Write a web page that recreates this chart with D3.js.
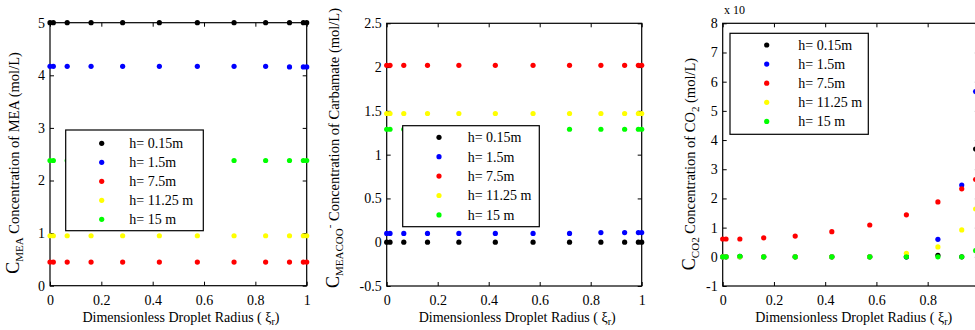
<!DOCTYPE html>
<html>
<head>
<meta charset="utf-8">
<script src="https://cdn.jsdelivr.net/npm/d3@7"></script>
<style>
  body { margin: 0; background: #fff; }
</style>
</head>
<body>
<div id="chart"></div>
<script>
// collocation points along the droplet radius
const xi = [0, 0.013, 0.067, 0.160, 0.283, 0.426, 0.574, 0.717, 0.840, 0.933, 0.987, 1];
const seriesNames = ['h= 0.15m', 'h= 1.5m', 'h= 7.5m', 'h= 11.25 m', 'h= 15 m'];
const seriesColors = ['#000000', '#0000ff', '#ff0000', '#ffff00', '#00ff00'];
const xTicks = [0, 0.2, 0.4, 0.6, 0.8, 1];

// MEA concentration (mol/L)
const meaValues = [
  [5.0, 5.0, 5.0, 5.0, 5.0, 5.0, 5.0, 5.0, 5.0, 5.0, 5.0, 5.0],
  [4.17, 4.17, 4.17, 4.17, 4.17, 4.17, 4.17, 4.17, 4.17, 4.16, 4.16, 4.16],
  [0.45, 0.45, 0.45, 0.45, 0.45, 0.45, 0.45, 0.45, 0.45, 0.45, 0.45, 0.45],
  [0.95, 0.95, 0.95, 0.95, 0.95, 0.95, 0.95, 0.95, 0.95, 0.95, 0.95, 0.95],
  [2.38, 2.38, 2.38, 2.38, 2.38, 2.38, 2.38, 2.38, 2.38, 2.38, 2.38, 2.38]
];
const meaTicks = [0, 1, 2, 3, 4, 5];

// carbamate concentration (mol/L)
const carbValues = [
  [0.0, 0.0, 0.0, 0.0, 0.0, 0.0, 0.0, 0.0, 0.0, 0.0, 0.0, 0.0],
  [0.10, 0.10, 0.10, 0.10, 0.10, 0.10, 0.10, 0.10, 0.11, 0.11, 0.11, 0.11],
  [2.02, 2.02, 2.02, 2.02, 2.02, 2.02, 2.02, 2.02, 2.02, 2.02, 2.02, 2.02],
  [1.47, 1.47, 1.47, 1.47, 1.47, 1.47, 1.47, 1.47, 1.47, 1.47, 1.47, 1.47],
  [1.29, 1.29, 1.29, 1.29, 1.29, 1.29, 1.29, 1.29, 1.29, 1.29, 1.29, 1.29]
];
const carbTicks = [-0.5, 0, 0.5, 1, 1.5, 2, 2.5];

// CO2 concentration (x10^-n mol/L), last point lies outside the picture
const co2Values = [
  [0, 0, 0.02, 0, 0, 0, 0, 0, 0.05, 0, 3.69, null],
  [0, 0, 0, 0, 0, 0, 0, 0, 0.60, 2.46, 5.66, null],
  [0.61, 0.61, 0.61, 0.65, 0.71, 0.86, 1.09, 1.44, 1.88, 2.33, 2.65, null],
  [0, 0, 0, 0, 0, 0, 0, 0.12, 0.34, 0.92, 1.64, null],
  [0, 0, 0.02, 0, 0, 0, 0, 0, 0, 0, 0.21, null]
];
const co2Ticks = [-1, 0, 1, 2, 3, 4, 5, 6, 7, 8];

const width = 975, height = 330;
const FONT = '"Liberation Serif", "Times New Roman", Times, serif';
const svg = d3.select('#chart').append('svg')
  .attr('width', width).attr('height', height);
svg.append('rect').attr('width', width).attr('height', height).attr('fill', '#fff');

const panels = [
  {
    values: meaValues, ticks: meaTicks, domain: [0, 5],
    left: 50, right: 306.7, top: 22.7, bottom: 285.7,
    legend: { x: 65.7, y: 130, w: 137.6, h: 100.7, mx: 101.7, tx: 129.3, y0: 143.3, dy: 19 },
    ylabel: { x: 19, y: 163, sub: 'MEA', sup: null, rest: '  Concentration of  MEA (mol/L)' }
  },
  {
    values: carbValues, ticks: carbTicks, domain: [-0.5, 2.5],
    left: 386.7, right: 641.7, top: 23.3, bottom: 286,
    legend: { x: 402.7, y: 125.7, w: 136.6, h: 101, mx: 439, tx: 467.7, y0: 137.3, dy: 19.4 },
    ylabel: { x: 339, y: 148, sub: 'MEACOO', sup: '-', rest: ' Concentration of Carbamate (mol/L)' }
  },
  {
    values: co2Values, ticks: co2Ticks, domain: [-1, 8],
    left: 722.7, right: 978.9, top: 23.3, bottom: 286,
    legend: { x: 730, y: 33.3, w: 138.3, h: 101, mx: 766.7, tx: 798.3, y0: 45, dy: 19.1 },
    ylabel: { x: 695, y: 164, sub: 'CO2', sup: null, rest: '  Concentration of CO', sub2: '2', rest2: ' (mol/L)' }
  }
];

panels.forEach((p) => {
  const x = d3.scaleLinear().domain([0, 1]).range([p.left, p.right]);
  const y = d3.scaleLinear().domain(p.domain).range([p.bottom, p.top]);
  const g = svg.append('g');
  const fmt = (d) => String(d);
  // labels only for ticks that fall inside the picture
  const xLab = (d) => (x(d) < width - 4 ? fmt(d) : '');

  // axes with inward ticks on all four sides
  g.append('g').attr('transform', `translate(0,${p.bottom})`)
    .call(d3.axisBottom(x).tickValues(xTicks).tickFormat(xLab).tickSize(-4).tickSizeOuter(0).tickPadding(9));
  g.append('g').attr('transform', `translate(0,${p.top})`)
    .call(d3.axisTop(x).tickValues(xTicks).tickFormat('').tickSize(-4).tickSizeOuter(0));
  g.append('g').attr('transform', `translate(${p.left},0)`)
    .call(d3.axisLeft(y).tickValues(p.ticks).tickFormat(fmt).tickSize(-4).tickSizeOuter(0).tickPadding(5));
  g.append('g').attr('transform', `translate(${p.right},0)`)
    .call(d3.axisRight(y).tickValues(p.ticks).tickFormat('').tickSize(-4).tickSizeOuter(0));
  g.selectAll('.domain').remove();
  g.selectAll('.tick line').attr('stroke', '#000');
  g.selectAll('.tick text').attr('fill', '#000').attr('font-size', 14);

  g.append('rect')
    .attr('x', p.left).attr('y', p.top)
    .attr('width', p.right - p.left).attr('height', p.bottom - p.top)
    .attr('fill', 'none').attr('stroke', '#000').attr('stroke-width', 1.2);

  // markers
  p.values.forEach((vals, i) => {
    const pts = xi.map((v, j) => [v, vals[j]]).filter((d) => d[1] !== null);
    g.append('g').selectAll('circle').data(pts).join('circle')
      .attr('cx', (d) => x(d[0]))
      .attr('cy', (d) => y(d[1]))
      .attr('r', 2.6)
      .attr('fill', seriesColors[i]);
  });

  // legend
  const L = p.legend;
  const lg = g.append('g');
  lg.append('rect').attr('x', L.x).attr('y', L.y).attr('width', L.w).attr('height', L.h)
    .attr('fill', '#fff').attr('stroke', '#000').attr('stroke-width', 1.2);
  seriesNames.forEach((name, i) => {
    lg.append('circle').attr('cx', L.mx).attr('cy', L.y0 + i * L.dy).attr('r', 2.6)
      .attr('fill', seriesColors[i]);
    lg.append('text').attr('x', L.tx).attr('y', L.y0 + i * L.dy).attr('dy', '0.35em')
      .attr('font-size', 14).text(name);
  });

  // x label
  const xl = g.append('text')
    .attr('x', (p.left + Math.min(p.right, p.left + 256)) / 2 + 3).attr('y', 322)
    .attr('text-anchor', 'middle').attr('font-size', 14);
  xl.append('tspan').text('Dimensionless Droplet Radius ( \u03BE');
  xl.append('tspan').attr('dy', 3).attr('font-size', 10).text('r');
  xl.append('tspan').attr('dy', -3).text(')');

  // y label
  const Y = p.ylabel;
  const yl = g.append('text')
    .attr('transform', `translate(${Y.x},${Y.y}) rotate(-90)`)
    .attr('text-anchor', 'middle').attr('font-size', 14.5);
  yl.append('tspan').attr('font-size', 18).text('C');
  yl.append('tspan').attr('dy', 4).attr('font-size', 11).text(Y.sub);
  if (Y.sup) {
    yl.append('tspan').attr('dy', -10).attr('font-size', 11).text(Y.sup);
    yl.append('tspan').attr('dy', 6).text(Y.rest);
  } else {
    yl.append('tspan').attr('dy', -4).text(Y.rest);
  }
  if (Y.sub2) {
    yl.append('tspan').attr('dy', 4).attr('font-size', 11).text(Y.sub2);
    yl.append('tspan').attr('dy', -4).text(Y.rest2);
  }
});

// exponent note above the CO2 panel
svg.append('text').attr('x', 724).attr('y', 14).attr('font-size', 12).text('x 10');

svg.selectAll('text, .tick').attr('font-family', FONT).attr('fill', '#000');
</script>
</body>
</html>
